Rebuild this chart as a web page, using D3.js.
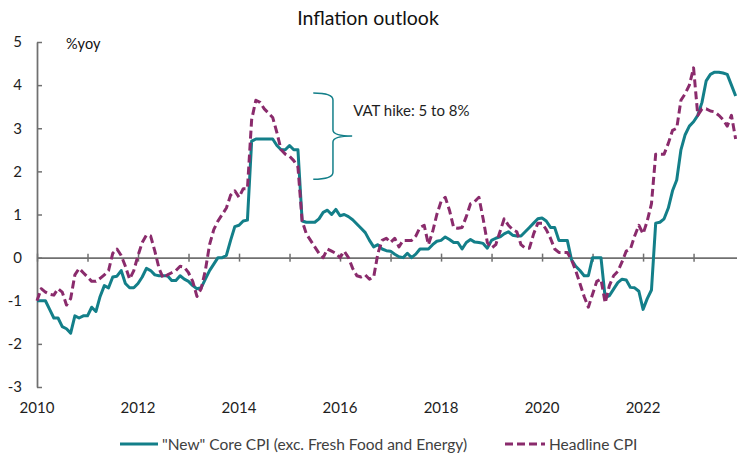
<!DOCTYPE html>
<html>
<head>
<meta charset="utf-8">
<script src="https://cdn.jsdelivr.net/npm/d3@7"></script>
<style>
  body { margin: 0; background: #fff; }
  text { font-family: Lato, 'Open Sans', sans-serif; }
</style>
</head>
<body>
<div id="chart"></div>
<script>
// monthly %yoy, Jan 2010 .. Nov 2023
const startYear = 2010
const core = [
  -1.0, -1.0, -1.0, -1.2, -1.4, -1.4, -1.6, -1.65, -1.75, -1.35, -1.4, -1.35,
  -1.35, -1.15, -1.25, -0.9, -0.65, -0.7, -0.45, -0.43, -0.3, -0.6, -0.7, -0.7,
  -0.6, -0.45, -0.25, -0.3, -0.4, -0.42, -0.42, -0.42, -0.53, -0.53, -0.42, -0.5,
  -0.55, -0.65, -0.72, -0.7, -0.5, -0.3, -0.15, 0.0, 0.0, 0.05, 0.4, 0.72,
  0.75, 0.85, 0.87, 2.7, 2.75, 2.75, 2.75, 2.75, 2.75, 2.6, 2.5, 2.5,
  2.6, 2.5, 2.5, 0.85, 0.82, 0.82, 0.82, 0.9, 1.05, 1.1, 1.0, 1.12,
  0.97, 1.0, 0.95, 0.88, 0.78, 0.68, 0.58, 0.4, 0.25, 0.3, 0.2, 0.16,
  0.15, 0.08, 0.02, 0.0, 0.1, 0.0, 0.08, 0.2, 0.2, 0.2, 0.3, 0.38,
  0.4, 0.48, 0.42, 0.35, 0.35, 0.2, 0.35, 0.42, 0.36, 0.35, 0.33, 0.22,
  0.4, 0.45, 0.48, 0.55, 0.6, 0.52, 0.5, 0.5, 0.6, 0.7, 0.8, 0.9,
  0.92, 0.85, 0.7, 0.7, 0.4, 0.4, 0.4, -0.05, -0.2, -0.3, -0.42, -0.42,
  0.0, 0.0, 0.0, -0.93, -0.88, -0.73, -0.58, -0.5, -0.52, -0.69, -0.7, -0.78,
  -1.2, -0.95, -0.75, 0.8, 0.82, 0.9, 1.15, 1.55, 1.8, 2.5, 2.85, 3.05,
  3.15, 3.3, 3.6, 4.1, 4.25, 4.3, 4.3, 4.28, 4.25, 4.0, 3.75
]
const headline = [
  -1.0, -0.72, -0.8, -0.85, -0.87, -0.72, -0.8, -1.1, -0.95, -0.4, -0.25, -0.35,
  -0.45, -0.55, -0.55, -0.48, -0.4, -0.3, 0.1, 0.2, 0.05, -0.2, -0.5, -0.3,
  0.05, 0.35, 0.52, 0.5, 0.15, -0.25, -0.48, -0.4, -0.35, -0.3, -0.2, -0.22,
  -0.35, -0.55, -0.9, -0.72, -0.3, 0.3, 0.65, 0.85, 1.0, 1.15, 1.45, 1.55,
  1.4, 1.6, 1.6, 3.2, 3.65, 3.6, 3.45, 3.35, 3.25, 2.9, 2.5, 2.4,
  2.35, 2.25, 2.1, 0.85, 0.55, 0.4, 0.25, 0.1, 0.0, 0.2, 0.15, 0.1,
  0.0, 0.15, 0.0, -0.25, -0.42, -0.45, -0.4, -0.5, -0.45, 0.1, 0.4, 0.45,
  0.35, 0.45, 0.25, 0.4, 0.4, 0.4, 0.5, 0.7, 0.75, 0.3, 0.6, 1.0,
  1.3, 1.4, 1.1, 0.7, 0.68, 0.7, 0.95, 1.25, 1.3, 1.4, 0.9, 0.35,
  0.22, 0.3, 0.6, 0.9, 0.75, 0.65, 0.6, 0.3, 0.22, 0.22, 0.55, 0.8,
  0.8, 0.65, 0.45, 0.2, 0.12, 0.12, 0.12, -0.05, -0.3, -0.6, -0.9, -1.15,
  -0.85, -0.55, -0.5, -1.05, -0.65, -0.42, -0.32, -0.1, 0.15, 0.2, 0.5, 0.75,
  0.55, 0.85, 1.25, 2.4, 2.4, 2.4, 2.65, 2.95, 3.0, 3.65, 3.8, 4.0,
  4.4, 3.3, 3.45, 3.45, 3.4, 3.38, 3.3, 3.2, 3.05, 3.3, 2.75
]
const yTicks = [-3, -2, -1, 0, 1, 2, 3, 4, 5]
const yearTicks = d3.range(2010, 2024)
const yearLabels = [2010, 2012, 2014, 2016, 2018, 2020, 2022]
const seriesNames = ['"New" Core CPI (exc. Fresh Food and Energy)', 'Headline CPI']
const titleText = 'Inflation outlook'
const unitText = '%yoy'
const vatNote = 'VAT hike: 5 to 8%'

const width = 737
const height = 454
const margin = { top: 42, left: 37, right: 0, bottom: 67 }

const teal = '#137f89'
const plum = '#8a2b6c'
const axisGrey = '#707070'
const textColor = '#1e1e1e'

const svg = d3
  .select('#chart')
  .append('svg')
  .attr('width', width)
  .attr('height', height)
  .style('background', '#fff')

const x = d3
  .scaleLinear()
  .domain([2010, 2023.86])
  .range([margin.left, width - margin.right])

const y = d3
  .scaleLinear()
  .domain([-3, 5])
  .range([height - margin.bottom, margin.top])

const t = i => startYear + i / 12

// title + unit
svg
  .append('text')
  .attr('x', 368)
  .attr('y', 25)
  .attr('text-anchor', 'middle')
  .style('font-size', '19.5px')
  .attr('fill', '#111')
  .text(titleText)

svg
  .append('text')
  .attr('x', 66)
  .attr('y', 49)
  .style('font-size', '14.5px')
  .attr('fill', '#111')
  .text(unitText)

// y axis, ticks pointing into the plot
const yAxis = svg
  .append('g')
  .attr('transform', 'translate(' + margin.left + ',0)')
  .call(
    d3.axisLeft(y)
      .tickValues(yTicks)
      .tickSize(-5)
      .tickSizeOuter(0)
      .tickPadding(15)
      .tickFormat(d => String(d))
  )
yAxis.select('.domain').attr('stroke', axisGrey).attr('stroke-width', 1.75)
yAxis.selectAll('.tick line').attr('stroke', axisGrey).attr('stroke-width', 1.5)
yAxis
  .selectAll('.tick text')
  .attr('fill', textColor)
  .style('font-size', '15px')
  .style('font-family', 'Lato, sans-serif')

// x axis along zero, ticks crossing
const xAxis = svg
  .append('g')
  .attr('transform', 'translate(0,' + y(0) + ')')
  .call(
    d3.axisBottom(x)
      .tickValues(yearTicks)
      .tickSizeOuter(0)
      .tickFormat('')
  )
xAxis.select('.domain').attr('stroke', axisGrey).attr('stroke-width', 1.75)
xAxis
  .selectAll('.tick line')
  .attr('y1', -4)
  .attr('y2', 4)
  .attr('stroke', axisGrey)
  .attr('stroke-width', 1.5)

svg
  .append('g')
  .selectAll('text')
  .data(yearLabels)
  .enter()
  .append('text')
  .attr('x', d => x(d))
  .attr('y', 413)
  .attr('text-anchor', 'middle')
  .style('font-size', '15px')
  .attr('fill', textColor)
  .text(d => d)

// lines
const line = d3
  .line()
  .x((d, i) => x(t(i)))
  .y(d => y(d))

svg
  .append('path')
  .datum(core)
  .attr('d', line)
  .attr('fill', 'none')
  .attr('stroke', teal)
  .attr('stroke-width', 3)
  .attr('stroke-linejoin', 'round')

svg
  .append('path')
  .datum(headline)
  .attr('d', line)
  .attr('fill', 'none')
  .attr('stroke', plum)
  .attr('stroke-width', 3)
  .attr('stroke-dasharray', '8,4')
  .attr('stroke-linejoin', 'round')

// VAT bracket
const bx0 = x(2015.47)
const bx1 = x(2015.86)
const bx2 = x(2016.24)
const byTop = y(3.82)
const byBot = y(1.82)
const byMid = (byTop + byBot) / 2
const bracket = d3.path()
bracket.moveTo(bx0, byTop)
bracket.quadraticCurveTo(bx1, byTop, bx1, byTop + 7)
bracket.lineTo(bx1, byMid - 6)
bracket.quadraticCurveTo(bx1, byMid, bx2, byMid)
bracket.quadraticCurveTo(bx1, byMid, bx1, byMid + 6)
bracket.lineTo(bx1, byBot - 7)
bracket.quadraticCurveTo(bx1, byBot, bx0, byBot)

svg
  .append('path')
  .attr('d', bracket.toString())
  .attr('fill', 'none')
  .attr('stroke', teal)
  .attr('stroke-width', 1.5)

svg
  .append('text')
  .attr('x', bx2 + 1)
  .attr('y', y(3.28))
  .style('font-size', '15px')
  .attr('fill', textColor)
  .text(vatNote)

// legend
const legend = svg.append('g').attr('transform', 'translate(0,444)')
const legendItems = [
  { name: seriesNames[0], color: teal, dash: null, x0: 120, x1: 158 },
  { name: seriesNames[1], color: plum, dash: '8,4', x0: 505, x1: 545 }
]
legendItems.forEach(function(d) {
  legend
    .append('line')
    .attr('x1', d.x0)
    .attr('x2', d.x1)
    .attr('stroke', d.color)
    .attr('stroke-width', 3)
    .attr('stroke-dasharray', d.dash)
  legend
    .append('text')
    .attr('x', d.x1 + 4)
    .attr('y', 5.5)
    .style('font-size', '15.5px')
    .attr('fill', '#404040')
    .text(d.name)
})
</script>
</body>
</html>
